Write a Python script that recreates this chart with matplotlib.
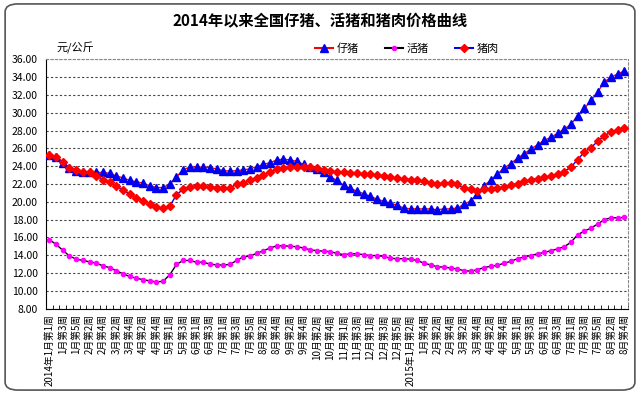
import matplotlib.pyplot as plt
from matplotlib.lines import Line2D
from matplotlib.patches import FancyBboxPatch

plt.rcParams['font.family'] = ['Noto Sans CJK SC', 'DejaVu Sans']

# weekly prices, 2014 week 1 .. 2015 Aug week 4 (yuan/kg)
piglet = [25.3, 25.0, 24.4, 23.8, 23.5, 23.4, 23.3, 23.3, 23.3, 23.2,
          22.9, 22.7, 22.4, 22.25, 22.1, 21.8, 21.6, 21.6, 22.0, 22.8,
          23.6, 23.9, 23.9, 23.9, 23.85, 23.7, 23.5, 23.45, 23.5, 23.6,
          23.7, 23.95, 24.2, 24.4, 24.7, 24.8, 24.7, 24.55, 24.2, 23.9,
          23.7, 23.3, 22.8, 22.4, 21.85, 21.5, 21.2, 20.9, 20.6, 20.3,
          20.05, 19.85, 19.6, 19.3, 19.2, 19.2, 19.2, 19.2, 19.1, 19.2,
          19.2, 19.3, 19.7, 20.1, 20.9, 21.8, 22.45, 23.1, 23.8, 24.3,
          24.9, 25.4, 25.95, 26.4, 26.9, 27.25, 27.7, 28.2, 28.7, 29.7,
          30.5, 31.4, 32.35, 33.5, 34.0, 34.4, 34.7]
live_hog = [15.75, 15.2, 14.55, 13.9, 13.55, 13.4, 13.25, 13.1, 12.8, 12.6,
            12.25, 11.9, 11.6, 11.4, 11.25, 11.1, 11.0, 11.05, 11.8, 12.95,
            13.4, 13.4, 13.2, 13.2, 13.0, 12.9, 12.9, 12.95, 13.4, 13.8,
            13.9, 14.2, 14.5, 14.8, 15.05, 15.05, 15.0, 14.95, 14.8, 14.6,
            14.5, 14.45, 14.4, 14.2, 14.05, 14.15, 14.15, 14.05, 13.95, 13.95,
            13.85, 13.65, 13.6, 13.6, 13.55, 13.4, 13.1, 12.9, 12.7, 12.65,
            12.55, 12.45, 12.25, 12.2, 12.35, 12.6, 12.75, 12.85, 13.1, 13.3,
            13.6, 13.8, 13.95, 14.15, 14.3, 14.5, 14.7, 14.95, 15.45, 16.3,
            16.7, 17.05, 17.5, 18.0, 18.2, 18.2, 18.25]
pork = [25.3, 25.0, 24.5, 23.8, 23.6, 23.4, 23.3, 22.9, 22.5, 22.2,
        21.8, 21.3, 20.9, 20.4, 20.1, 19.7, 19.4, 19.3, 19.5, 20.8,
        21.4, 21.7, 21.75, 21.75, 21.7, 21.6, 21.55, 21.55, 22.0, 22.15,
        22.45, 22.7, 23.0, 23.35, 23.7, 23.8, 23.9, 23.95, 23.9, 23.9,
        23.8, 23.6, 23.5, 23.3, 23.3, 23.25, 23.2, 23.1, 23.1, 23.0,
        22.9, 22.75, 22.65, 22.55, 22.5, 22.4, 22.3, 22.15, 22.0, 22.1,
        22.1, 21.95, 21.5, 21.4, 21.25, 21.4, 21.45, 21.5, 21.65, 21.85,
        22.05, 22.3, 22.5, 22.6, 22.75, 22.9, 23.15, 23.4, 23.9, 24.75,
        25.6, 26.1, 26.8, 27.45, 27.85, 28.1, 28.3]

# every second week is labelled
week_labels = ["2014年1月第1周", "1月第3周", "1月第5周", "2月第2周", "2月第4周",
               "3月第2周", "3月第4周", "4月第2周", "4月第4周", "5月第1周",
               "5月第3周", "6月第1周", "6月第3周", "7月第1周", "7月第3周",
               "7月第5周", "8月第2周", "8月第4周", "9月第2周", "9月第4周",
               "10月第2周", "10月第4周", "11月第1周", "11月第3周", "12月第1周",
               "12月第3周", "12月第5周",
               "2015年1月第2周", "1月第4周", "2月第2周", "2月第4周", "3月第2周",
               "3月第4周", "4月第2周", "4月第4周", "5月第1周", "5月第3周",
               "6月第1周", "6月第3周", "7月第1周", "7月第3周", "7月第5周",
               "8月第2周", "8月第4周"]
y_ticks = [8, 10, 12, 14, 16, 18, 20, 22, 24, 26, 28, 30, 32, 34, 36]

fig = plt.figure(figsize=(6.4, 3.94), dpi=100)
fig.patches.append(FancyBboxPatch((0.008, 0.01), 0.984, 0.98,
                                  boxstyle="round,pad=0,rounding_size=0.02",
                                  transform=fig.transFigure, fill=False,
                                  edgecolor='#555555', linewidth=1.2))
ax = fig.add_axes([0.072, 0.217, 0.909, 0.632])

x = list(range(len(piglet)))
ax.plot(x, piglet, color='red', lw=1, marker='^', ms=5.5, mfc='#0000ee',
        mec='#0000ee', zorder=3)
ax.plot(x, live_hog, color='black', lw=1, marker='o', ms=3, mfc='#ff00ff',
        mec='#ff00ff', zorder=3)
ax.plot(x, pork, color='blue', lw=1, marker='D', ms=4.3, mfc='red', mec='red',
        zorder=4)

ax.set_xlim(-0.5, len(piglet) - 0.5)
ax.set_ylim(8, 36)
ax.set_yticks(y_ticks)
ax.set_yticklabels([f"{v:.2f}" for v in y_ticks], fontsize=7.5)
ax.yaxis.grid(True, linestyle=(0, (2, 2)), color='#444444', lw=0.8)

ax.set_xticks(range(0, len(piglet), 2))
ax.set_xticklabels(week_labels, rotation=90, fontsize=7, va='top')
ax.set_xticks([i - 0.5 for i in range(len(piglet) + 1)], minor=True)
ax.tick_params(axis='x', which='major', length=0, pad=4)
ax.tick_params(axis='x', which='minor', direction='in', length=3)
ax.tick_params(axis='y', length=0, pad=6)

for side in ['top', 'right']:
    ax.spines[side].set_linestyle((0, (2, 2)))
    ax.spines[side].set_color('#888888')
    ax.spines[side].set_linewidth(0.8)
for side in ['left', 'bottom']:
    ax.spines[side].set_color('black')

fig.text(0.5, 0.945, "2014年以来全国仔猪、活猪和猪肉价格曲线", ha='center',
         va='center', fontsize=11, fontweight='bold')
fig.text(0.088, 0.878, "元/公斤", ha='left', va='center', fontsize=8)

handles = [
    Line2D([], [], color='red', lw=1.5, marker='^', ms=5.5, mfc='#0000ee', mec='#0000ee'),
    Line2D([], [], color='black', lw=1.5, marker='o', ms=3, mfc='#ff00ff', mec='#ff00ff'),
    Line2D([], [], color='blue', lw=1.5, marker='D', ms=4.3, mfc='red', mec='red'),
]
fig.legend(handles, ["仔猪", "活猪", "猪肉"], loc='center',
           bbox_to_anchor=(0.636, 0.878), ncol=3, frameon=False, fontsize=8,
           handlelength=1.6, handletextpad=0.3, columnspacing=2.4)

fig.savefig("out.png", dpi=100)
